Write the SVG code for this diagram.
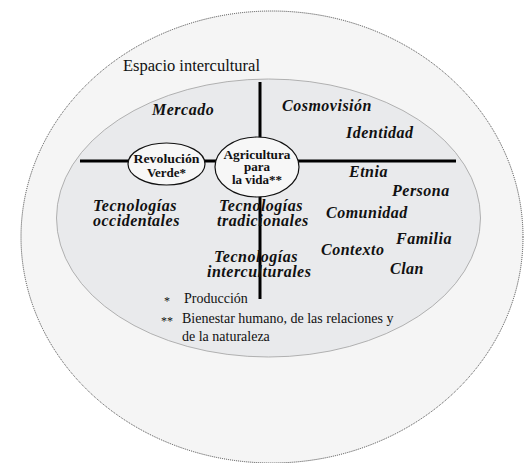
<svg xmlns="http://www.w3.org/2000/svg" width="524" height="463" viewBox="0 0 524 463">
<style>
text{font-family:'Liberation Serif','Times New Roman','DejaVu Serif',serif}
.bi{font-weight:bold;font-style:italic;font-size:16px;letter-spacing:0.5px;fill:#111}
.nb{font-weight:bold;font-size:13px;fill:#111;text-anchor:middle}
.rg{font-size:14px;fill:#111}
.ln{stroke:#000;stroke-width:3;fill:none}
.node{fill:#f7f7f7;stroke:#111;stroke-width:1.2}
</style>
<rect width="524" height="463" fill="#fff"/>
<g id="outer">
<ellipse cx="272" cy="237" rx="251" ry="226" fill="#f5f5f5" stroke="#444" stroke-width="1" stroke-dasharray="1 1"/>
<text class="rg" x="123" y="71" style="font-size:16.5px">Espacio intercultural</text>
</g>
<g id="inner">
<ellipse cx="268.5" cy="218" rx="212" ry="139" fill="#e9eaec" stroke="#a0a0a0" stroke-width="0.8"/>
</g>
<g id="connectors">
<line class="ln" x1="80" y1="161" x2="456" y2="161"/>
<line class="ln" x1="260" y1="82" x2="260" y2="140"/>
<line class="ln" x1="260" y1="195" x2="260" y2="299"/>
</g>
<g id="revolucion">
<ellipse class="node" cx="166.5" cy="164" rx="38.5" ry="21"/>
<text class="nb" x="166.5" y="163" textLength="66" lengthAdjust="spacingAndGlyphs">Revolución</text>
<text class="nb" x="166.5" y="177">Verde*</text>
</g>
<g id="agricultura">
<ellipse class="node" cx="257" cy="167" rx="42" ry="30"/>
<text class="nb" x="257" y="158.5" textLength="67" lengthAdjust="spacingAndGlyphs">Agricultura</text>
<text class="nb" x="257" y="171">para</text>
<text class="nb" x="257" y="184">la vida**</text>
</g>
<g id="labels">
<text class="bi" x="152" y="115">Mercado</text>
<text class="bi" x="282" y="111">Cosmovisión</text>
<text class="bi" x="346" y="138">Identidad</text>
<text class="bi" x="349" y="177">Etnia</text>
<text class="bi" x="392" y="196">Persona</text>
<text class="bi" x="326" y="218">Comunidad</text>
<text class="bi" x="396" y="244">Familia</text>
<text class="bi" x="321" y="255">Contexto</text>
<text class="bi" x="390" y="274">Clan</text>
<text class="bi" x="93" y="210.5">Tecnologías</text>
<text class="bi" x="93" y="226">occidentales</text>
<text class="bi" x="219" y="210.5">Tecnologías</text>
<text class="bi" x="217" y="226">tradicionales</text>
<text class="bi" x="214" y="261.5">Tecnologías</text>
<text class="bi" x="207" y="277">interculturales</text>
</g>
<g id="legend">
<text class="rg" x="164" y="305" style="font-size:12px">*</text>
<text class="rg" x="184" y="303">Producción</text>
<text class="rg" x="161" y="325" style="font-size:12px">**</text>
<text class="rg" x="182" y="323">Bienestar humano, de las relaciones y</text>
<text class="rg" x="182" y="341">de la naturaleza</text>
</g>
</svg>
